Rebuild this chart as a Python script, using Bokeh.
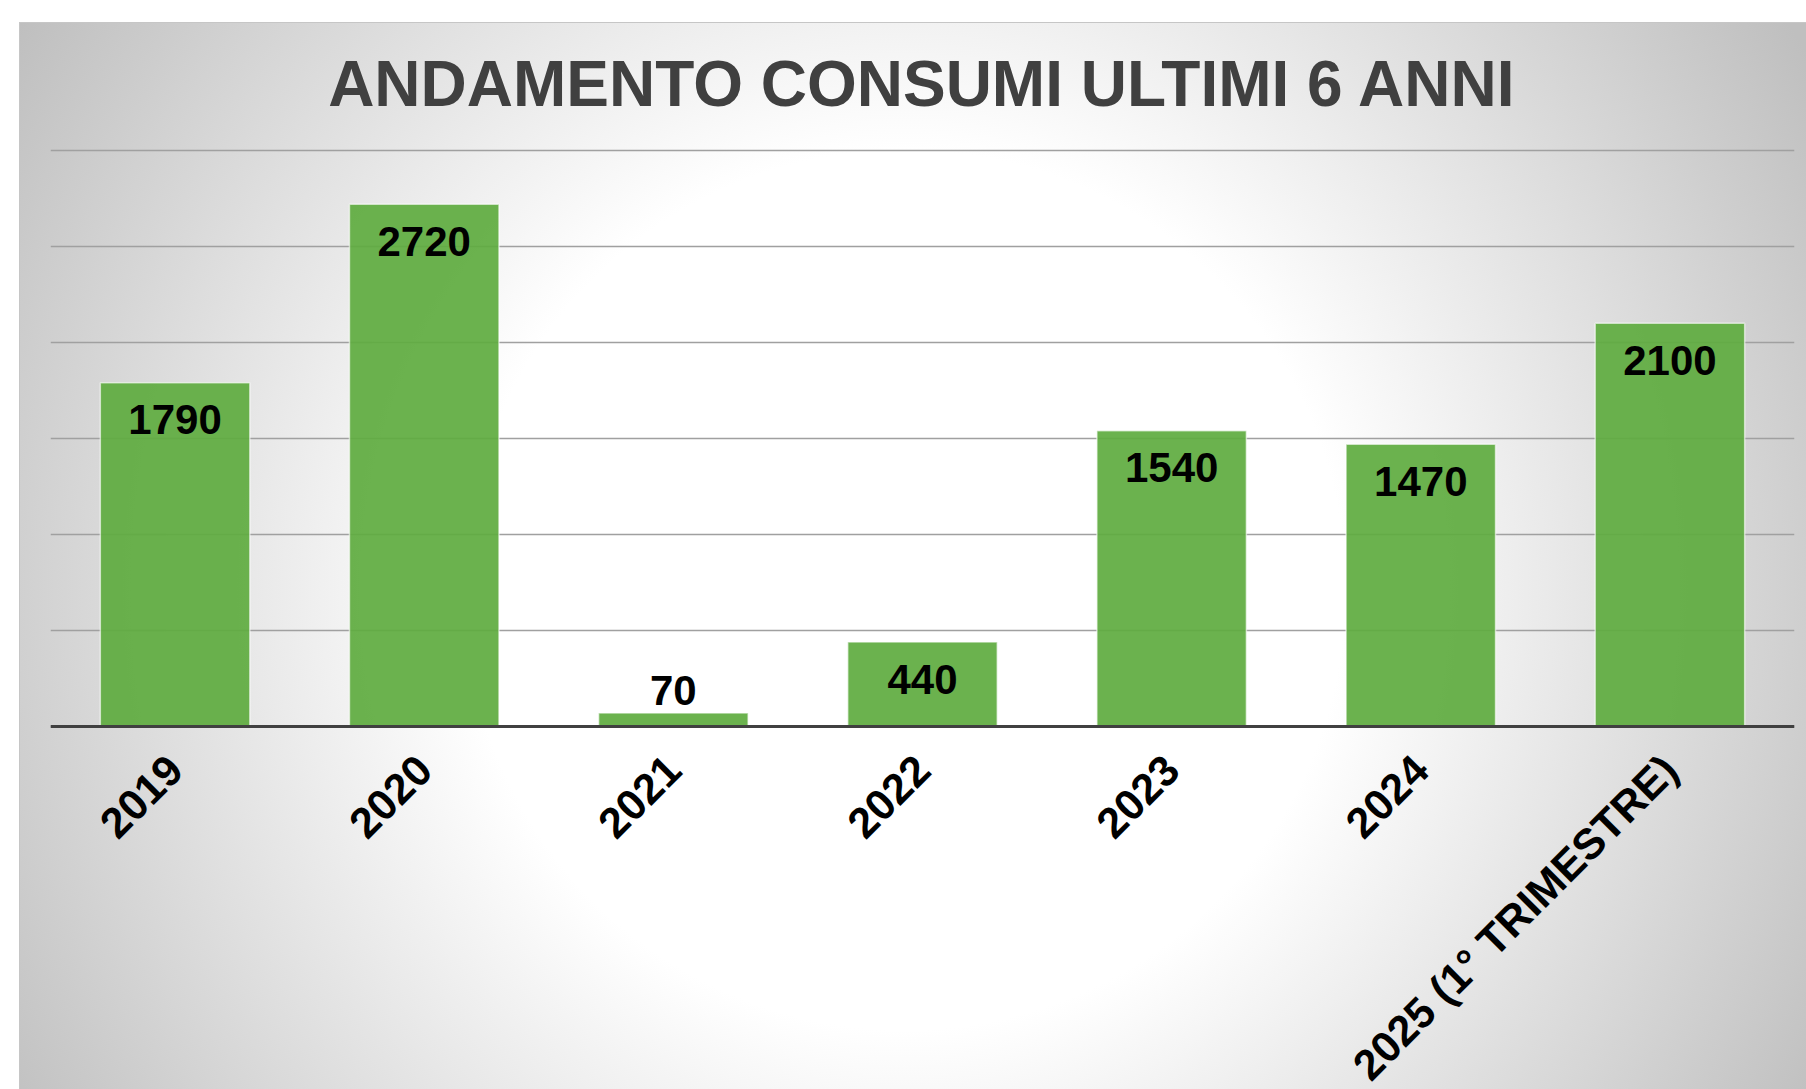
import math
from bokeh.plotting import figure
from bokeh.models import ColumnDataSource, FactorRange, Range1d, FixedTicker, LabelSet
from bokeh.core.properties import value
from bokeh.embed import file_html
from bokeh.resources import INLINE

categories = ["2019", "2020", "2021", "2022", "2023", "2024", "2025 (1° TRIMESTRE)"]
values = [1790, 2720, 70, 440, 1540, 1470, 2100]
grid_ticks = [0, 500, 1000, 1500, 2000, 2500, 3000]
title_text = "ANDAMENTO CONSUMI ULTIMI 6 ANNI"

FONT = "Liberation Sans"

label_text = [str(v) for v in values]
offsets = [-37 if v >= 200 else 23 for v in values]

src = ColumnDataSource(dict(cat=categories, val=values, txt=label_text, off=offsets))

# frame spans 130..1089 px; value 0 sits at 726 px (0.192 px per unit)
p = figure(
    x_range=FactorRange(*categories),
    y_range=Range1d(-1890.6, 3104),
    width=1806, height=1089,
    output_backend="svg", toolbar_location=None,
    min_border_left=50, min_border_right=12,
    min_border_top=130, min_border_bottom=0,
)
p.background_fill_color = None
p.border_fill_color = None
p.outline_line_color = None
p.styles = {
    "background": (
        "linear-gradient(#ffffff,#ffffff) 0px 0px / 19px 100% no-repeat, "
        "linear-gradient(#ffffff,#ffffff) 0px 0px / 100% 22px no-repeat, "
        "linear-gradient(#c6c6c6,#c6c6c6) 19px 22px / 100% 1px no-repeat, "
        "linear-gradient(#c6c6c6,#c6c6c6) 19px 22px / 1px 100% no-repeat, "
        "radial-gradient(circle at 905px 590px, #ffffff 0px, #ffffff 440px, #bfbfbf 1050px)"
    ),
}

p.vbar(x="cat", top="val", bottom=0, width=0.6, source=src,
       fill_color="#5eab3f", fill_alpha=0.92,
       line_color="#ffffff", line_alpha=0.6, line_width=1.5)

labels = LabelSet(x="cat", y="val", text="txt", source=src, y_offset="off",
                  text_align="center", text_baseline="middle",
                  text_font=value(FONT), text_font_size="42px",
                  text_font_style="bold", text_color="#000000")
p.add_layout(labels)

p.title.text = title_text
p.title.align = "center"
p.title.text_font = FONT
p.title.text_font_size = "64px"
p.title.text_font_style = "bold"
p.title.text_color = "#404040"
p.title.standoff = 22

p.yaxis.visible = False
p.xgrid.visible = False
p.ygrid.ticker = FixedTicker(ticks=grid_ticks)
p.ygrid.grid_line_color = "#a0a0a0"
p.ygrid.grid_line_width = 1.5

ax = p.xaxis[0]
ax.fixed_location = 0
ax.major_label_orientation = math.pi / 4
ax.major_label_text_font = FONT
ax.major_label_text_font_size = "43px"
ax.major_label_text_font_style = "bold"
ax.major_label_text_color = "#000000"
ax.axis_line_color = "#404040"
ax.axis_line_width = 3
ax.major_tick_line_color = None
ax.minor_tick_line_color = None
ax.major_tick_out = 0
ax.major_tick_in = 0
ax.major_label_standoff = 36

open("out.html", "w").write(file_html(p, INLINE))
